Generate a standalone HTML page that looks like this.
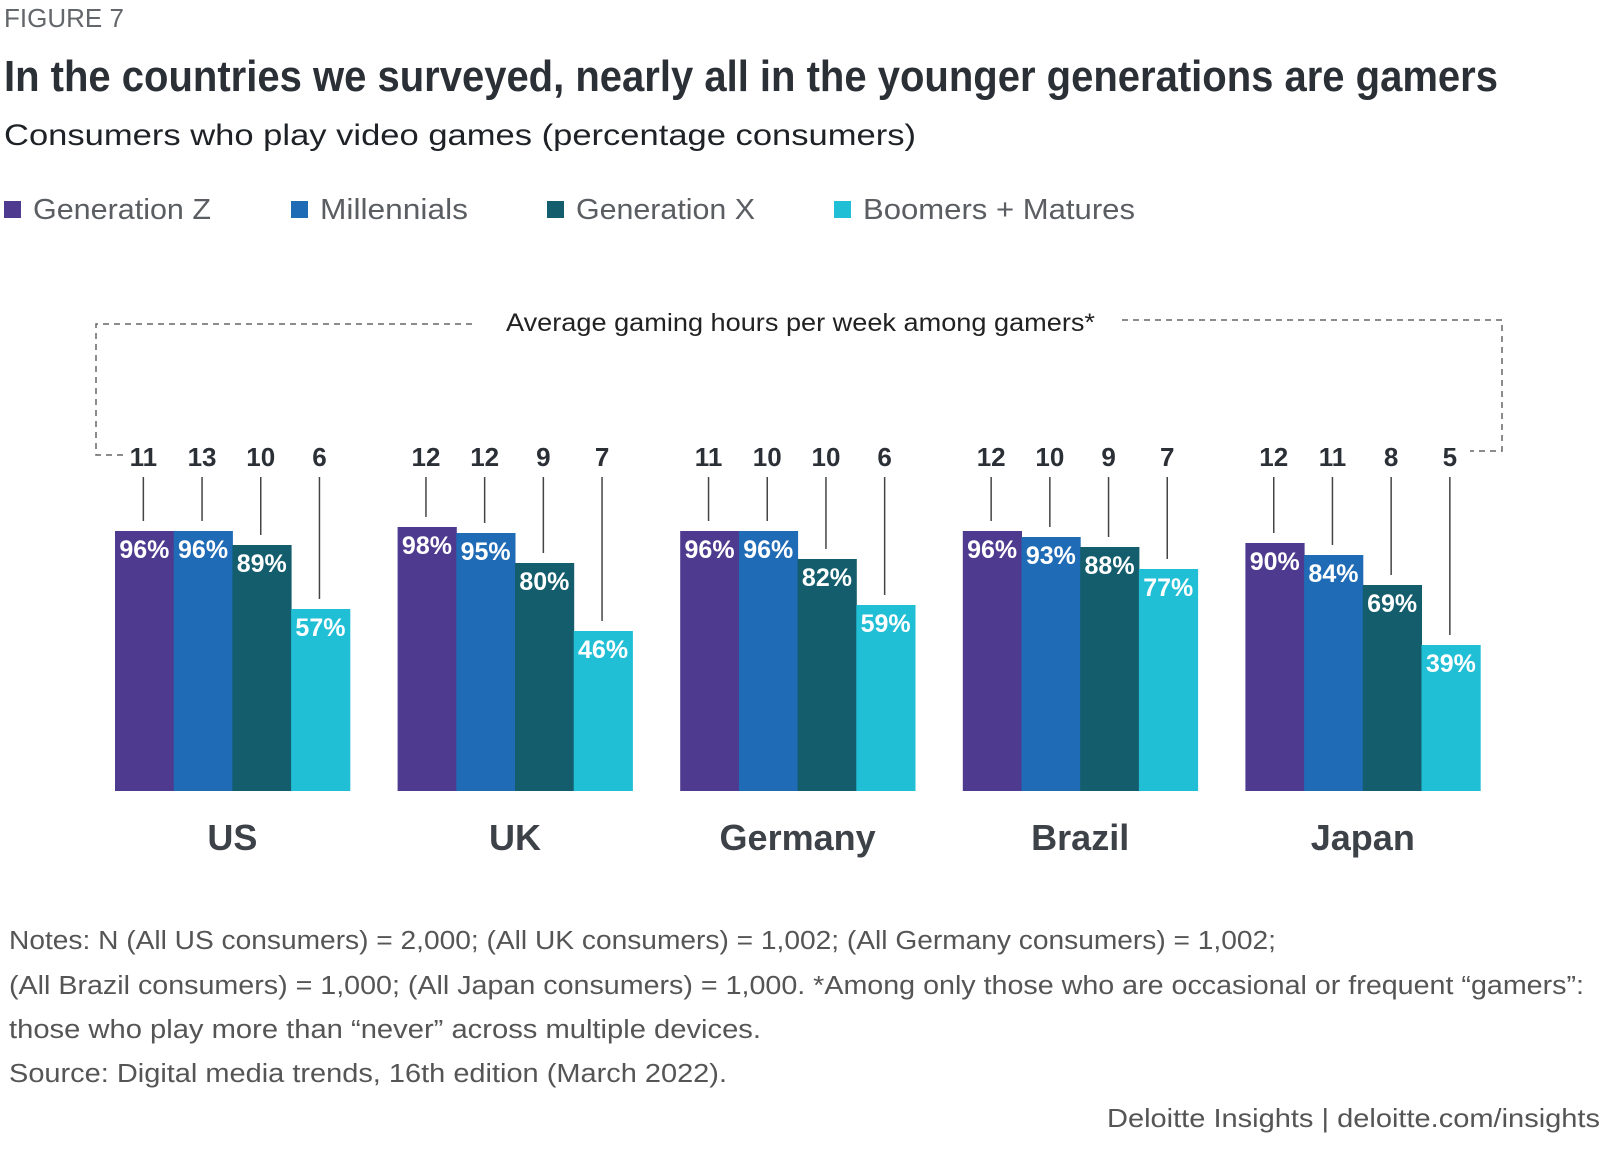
<!DOCTYPE html>
<html><head><meta charset="utf-8"><style>
body{margin:0;background:#fff;}
svg{display:block;font-family:"Liberation Sans",sans-serif;}
</style></head><body>
<svg id="chart" width="1600" height="1155" viewBox="0 0 1600 1155">
<text x="4" y="27" font-size="26" fill="#63666a">FIGURE 7</text>
<text x="4" y="91" font-size="44" font-weight="bold" fill="#2b2f36" textLength="1494" lengthAdjust="spacingAndGlyphs" font-family="Liberation Sans Narrow, Liberation Sans, sans-serif">In the countries we surveyed, nearly all in the younger generations are gamers</text>
<text x="4" y="145" font-size="30" fill="#1e2227" textLength="912" lengthAdjust="spacingAndGlyphs">Consumers who play video games (percentage consumers)</text>
<g id="legend"></g>
<g fill="none" stroke="#666" stroke-width="1.5" stroke-dasharray="6,5">
<polyline points="123,455 96,455 96,324 476,324"/>
<polyline points="1122,320 1502,320 1502,451 1470,451"/>
</g>
<text x="506" y="331" font-size="25" fill="#222" textLength="589" lengthAdjust="spacingAndGlyphs">Average gaming hours per week among gamers*</text>
<g id="bars"></g>
<g font-size="25.5" fill="#555" lengthAdjust="spacingAndGlyphs">
<text x="9" y="949" textLength="1267" lengthAdjust="spacingAndGlyphs">Notes: N (All US consumers) = 2,000; (All UK consumers) = 1,002; (All Germany consumers) = 1,002;</text>
<text x="9" y="994" textLength="1575" lengthAdjust="spacingAndGlyphs">(All Brazil consumers) = 1,000; (All Japan consumers) = 1,000. *Among only those who are occasional or frequent “gamers”:</text>
<text x="9" y="1038" textLength="752" lengthAdjust="spacingAndGlyphs">those who play more than “never” across multiple devices.</text>
<text x="9" y="1082" textLength="718" lengthAdjust="spacingAndGlyphs">Source: Digital media trends, 16th edition (March 2022).</text>
</g>
<text x="1107" y="1127" font-size="26" fill="#555" textLength="493" lengthAdjust="spacingAndGlyphs">Deloitte Insights | deloitte.com/insights</text>
</svg>
<script>
const countries = ["US","UK","Germany","Brazil","Japan"];
const seriesNames = ["Generation Z","Millennials","Generation X","Boomers + Matures"];
const genZ = [96,98,96,96,90];
const millennials = [96,95,96,93,84];
const genX = [89,80,82,88,69];
const boomers = [57,46,59,77,39];
const hoursGenZ = [11,12,11,12,12];
const hoursMill = [13,12,10,10,11];
const hoursGenX = [10,9,10,9,8];
const hoursBoom = [6,7,6,7,5];
const colors = ["#4e3a8e","#1f6bb5","#135d6d","#21bfd6"];
const NS = "http://www.w3.org/2000/svg";
const series = [genZ, millennials, genX, boomers];
const hours = [hoursGenZ, hoursMill, hoursGenX, hoursBoom];
const baseY = 791, groupX0 = 115, groupStep = 282.6, barW = 58.7;
function yScale(v){ return baseY - 2*(v + 34); }
function xScale(ci, si){ return groupX0 + ci*groupStep + si*barW; }
function mk(tag, attrs, parent){ const e=document.createElementNS(NS,tag); for(const k in attrs) e.setAttribute(k, attrs[k]); parent.appendChild(e); return e; }
const leg = document.getElementById('legend');
const legX = [4, 291, 547, 834];
const legW = [178, 148, 179, 272];
seriesNames.forEach((n,i)=>{
  const r = mk('rect',{x:legX[i],y:201,width:17,height:17,fill:colors[i]},leg);
  
  
  const t = mk('text',{x:legX[i]+29,y:219,'font-size':29,fill:'#5a5d61',textLength:legW[i],lengthAdjust:'spacingAndGlyphs'},leg);
  t.textContent = n;
  
  
});
const g = document.getElementById('bars');
countries.forEach((c,ci)=>{
  series.forEach((s,si)=>{
    const v = s[ci], x = xScale(ci,si), y = yScale(v);
    const r = mk('rect',{x:x,y:y,width:barW+0.5,height:baseY-y,fill:colors[si]},g);
    
    
    const t = mk('text',{x:x+barW/2,y:y+27,'font-size':25,'font-weight':'bold',fill:'#fff','text-anchor':'middle','font-family':'Liberation Sans Narrow, Liberation Sans, sans-serif'},g);
    t.textContent = v+'%';
    
    
    const l = mk('line',{x1:x+barW/2-1,x2:x+barW/2-1,y1:477,y2:y-10,stroke:'#444','stroke-width':1.5},g);
    
    
    const h = mk('text',{x:x+barW/2-1,y:466,'font-size':26,'font-weight':'bold',fill:'#2b2f36','text-anchor':'middle','font-family':'Liberation Sans Narrow, Liberation Sans, sans-serif'},g);
    h.textContent = hours[si][ci];
    
    
  });
  const ct = mk('text',{x:xScale(ci,2),y:850,'font-size':36,'font-weight':'bold',fill:'#3d4148','text-anchor':'middle','font-family':'Liberation Sans Narrow, Liberation Sans, sans-serif'},g);
  ct.textContent = c;
  
  
});
</script>
</body></html>
